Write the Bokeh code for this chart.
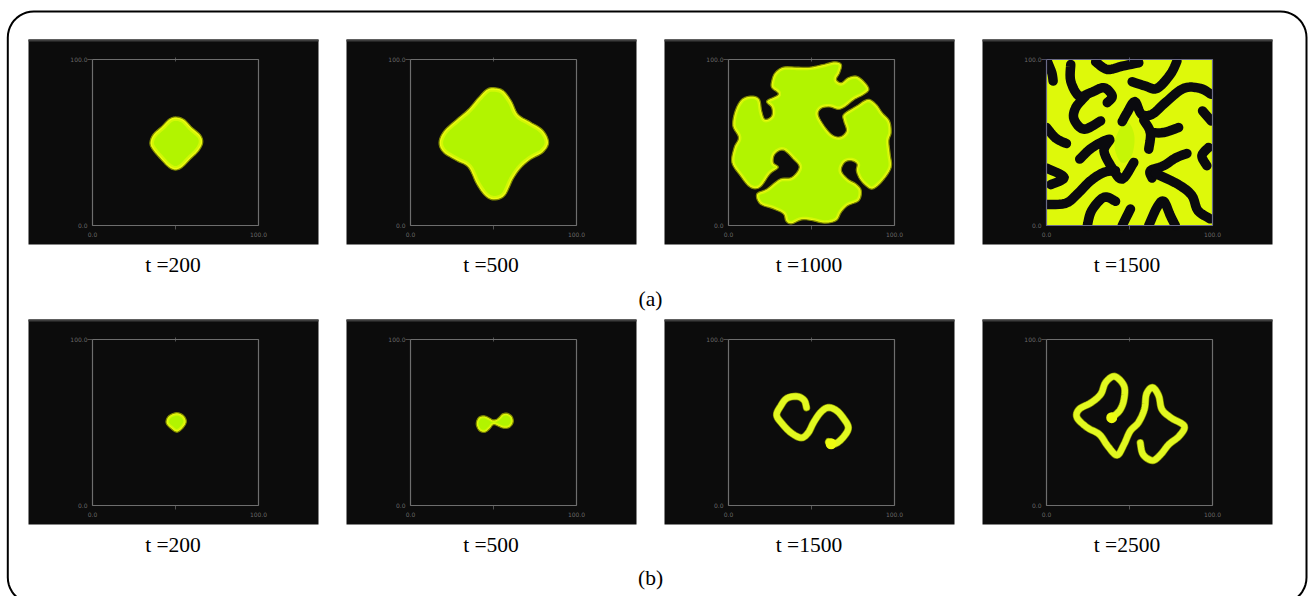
from bokeh.plotting import figure
from bokeh.core.properties import value
from bokeh.embed import file_html
from bokeh.resources import INLINE
import numpy as np

# ---------- data, in the plotted domain 0..100 of each inner square ----------
TOP_LABELS = ["t =200", "t =500", "t =1000", "t =1500"]
BOTTOM_LABELS = ["t =200", "t =500", "t =1500", "t =2500"]
ROW_CAPTIONS = ["(a)", "(b)"]
TICK_MIN = "0.0"
TICK_MAX = "100.0"

a200_x = [50,55,60,65,66.4,64,59,54,50,46,41,36,34.6,36.6,42,46]
a200_y = [65.4,64,59,54.6,50,45,40,35,33.4,35,40,46,50,55,60,64]

a500_x = [50.2,55.8,60.8,64.8,71.8,79.8,83.2,79.8,72.8,66.8,61.8,56.8,50.2,44.8,39.8,34.8,27.8,19.8,17.2,20.2,27.8,34.8,40.8,45.8]
a500_y = [83,81.4,75,67,62.6,57.4,50,44,40,35,28,18,15.4,18,25,35,39,44,50,57,64,70,77,82]

a1000_x = [26,28,33,41,49,57,64,68,67,65,68,72,77,81.4,84.6,81,76,70,66,61,56,54,57,62,67,71,69.4,69.4,77,84,89,92.6,97,98,96.6,97.4,98,93,87,82.6,79,77,77.4,74,70,68,72,77,80,78.6,72,68,65,58,50,44,38,34.6,33,27,19,17,23,31,38,42.6,39,33,28,27,30,25,19,13,7,2,3.4,6,2.6,4,8,14,18.6,20,22,26,26,23,30,26]
a1000_y = [87,92,95.4,95.4,95.4,97,98.6,97,92,88,86,89,90,87,82,78.6,76,71.4,70,71.4,70.6,67,61,55,53.4,57,63,67,72,76,73,68,63,56,51,43,35,27,22,24,28,33,37,39,38,33,28,25,21,15,12,8,3,1.4,3,3.4,1,2.6,7,10,13,19,22,28,29,35,40,45.4,43,38,35,31,23,23,30,38,47,53,60,69,76,78,76,69,64,66,71,75,79,83]

a1500_core_x = [44,48,51,53,52,49,45,42,41]
a1500_core_y = [58,62,60,53,44,39,38,43,50]

a1500_channels_x = [
    [0.6,3.2,4],
    [14.6,14.6,19.6,26.6,34.6,39.6,36.6],
    [23.6,17.6,16.6,22.6,32.6],
    [29.6,36.6,45.6,55.6],
    [51.6,59.6,66.6,74.6,78.6],
    [45.6,48.6,53.2,57.2,63.6,71.6,82.6,92.6,99.2],
    [94,99.2],
    [61.6,62.6,58.6],
    [62.6,70.6,79.6],
    [0,5.6,12],
    [20,27.6,38,34.6,39.6,45.6,52.6],
    [0,10.6,2.6],
    [0,11.6,18.6,26.6,34.6,41.6],
    [63.6,62.6,70.6,77.6,84.6],
    [65.6,79.6,87.6,91.2,98.6],
    [97.6,93.6,96.6],
    [24.6,27.2,34.6,41.6],
    [45.6,50.6],
    [61.6,66.6,70.6,74.6,77.6],
]
a1500_channels_y = [
    [98.6,92,87],
    [97,87,78,80,83,78,74],
    [78,71,64,58,63],
    [98.6,94,96,98],
    [86.6,84,82.6,91,99],
    [62.6,68,74.6,67,67,74,82.6,82.6,79],
    [69,63],
    [46,56,63.4],
    [56,56,59],
    [59,52.6,49.4],
    [40,47,52,45,34.6,28,38],
    [34.6,29,24.6],
    [12.6,13.4,19,27,32,33],
    [28.6,33,36,40.6,43.4],
    [31.4,24.6,18,9,4],
    [47,42,36],
    [0,9,17,14.6],
    [0,10],
    [0,11,14.6,6,0],
]

b200_x = [50.5,54.5,56.5,55,51,47,44.3,45.8]
b200_y = [55.9,54.5,51,47.3,44.2,46.5,49.9,53.9]

b500_x = [39.6,41,44.3,47.8,49.5,51.5,53.2,55.5,58.5,61.2,61.8,59.5,56,53,51,49.5,48,45,41.5]
b500_y = [49,53,54,52.6,51.6,51.8,53,55.2,55.5,53.5,50,47,46.6,47.7,48.6,48.4,46.5,44.2,45]

b1500_x = [47,45.6,41.4,35.2,31.5,29,32.3,37.7,43.8,48,51.2,55.4,59.9,64.8,69,72.2,69.2,64.3,60.3]
b1500_y = [59,63.4,65.7,64.6,60,54.5,49.3,43.8,40.8,43.8,49.9,56,59,57.4,52.9,46.9,41.2,37.2,38.4]
b1500_tip = (61.8, 37.2)

b2500_x = [39.3,44.2,46.7,46.7,41,35.6,32.7,27,19.7,18.4,24.6,31.9,36.9,42.5,46.7,50.4,55.3,59,60.2,63.9,67.6,69.5,74.9,83,79.9,73.7,68.8,63.9,58.2,56.5]
b2500_y = [52.9,57.4,64,72.1,77.8,74.1,67.1,62,58,52.9,46.9,42.8,35.8,30.3,36.8,44.8,49.9,58,67.1,71.1,66.1,58,52.9,47.9,41.8,36.8,30.7,27.1,30.7,37.8]
b2500_tip = (39.3, 52.9)

# ---------- layout ----------
W, H = 1308, 596
PANEL_W, PANEL_H = 290, 205
INNER_DX, INNER_DY = 64, 20
INNER_W, INNER_H = 166, 166
PANEL_X = [28, 346, 664, 982]
ROW_Y = [39, 319]
BG = "#0c0c0c"
LIME = "#b2f400"
MID = "#d2f806"
YELLOW = "#eefc10"
DIM = "#7f8a00"

p = figure(width=W, height=H, x_range=(0, W), y_range=(H, 0),
           output_backend="svg", toolbar_location=None, min_border=0,
           background_fill_color="white", border_fill_color="white")
p.axis.visible = False
p.grid.visible = False
p.outline_line_color = None


def to_px(col, row, xs, ys):
    ox = PANEL_X[col] + INNER_DX
    oy = ROW_Y[row] + INNER_DY + INNER_H
    return (ox + np.asarray(xs, float) * INNER_W / 100).tolist(), (oy - np.asarray(ys, float) * INNER_H / 100).tolist()


def rounded(xs, ys, closed, n=6):
    """Draw a traced outline as a smooth curve through the traced vertices."""
    pts = np.column_stack([xs, ys])
    if closed:
        q = np.vstack([pts[-1:], pts, pts[:2]])
    else:
        q = np.vstack([pts[:1], pts, pts[-1:]])
    out = []
    t = np.linspace(0, 1, n, endpoint=False)[:, None]
    for i in range(1, len(q) - 2):
        a, b, c, d = q[i - 1], q[i], q[i + 1], q[i + 2]
        out.append(0.5 * (2 * b + (c - a) * t + (2 * a - 5 * b + 4 * c - d) * t**2 + (3 * b - a - 3 * c + d) * t**3))
    out = np.vstack(out)
    if not closed:
        out = np.vstack([out, pts[-1:]])
    return out[:, 0].tolist(), out[:, 1].tolist()


def inset(xs, ys, d):
    """Move a closed outline inwards by d pixels."""
    x, y = np.asarray(xs), np.asarray(ys)
    dx, dy = np.roll(x, -1) - np.roll(x, 1), np.roll(y, -1) - np.roll(y, 1)
    ln = np.hypot(dx, dy) + 1e-9
    area = 0.5 * np.sum(x * np.roll(y, -1) - np.roll(x, -1) * y)
    s = 1 if area > 0 else -1
    return (x - s * d * dy / ln).tolist(), (y + s * d * dx / ln).tolist()


def panel(col, row, label):
    x0, y0 = PANEL_X[col], ROW_Y[row]
    p.quad(left=[x0], right=[x0 + PANEL_W], top=[y0], bottom=[y0 + PANEL_H], fill_color=BG, line_color=None)
    p.quad(left=[x0], right=[x0 + PANEL_W], top=[y0], bottom=[y0 + 2], fill_color="#3c3c3c", line_color=None)
    p.text([x0 + PANEL_W / 2 - 0.5], [y0 + PANEL_H + 8], text=[label], text_font=value("Liberation Serif"),
           text_font_size="21.5px", text_color="black", text_align="center", text_baseline="top")


def frame(col, row, color="#6e6e6e"):
    x0, y0 = PANEL_X[col] + INNER_DX, ROW_Y[row] + INNER_DY
    x1, y1 = x0 + INNER_W, y0 + INNER_H
    p.multi_line([[x0, x1, x1, x0, x0]], [[y0, y0, y1, y1, y0]], line_color=color, line_width=1.2)
    xm = (x0 + x1) / 2
    p.segment([xm, xm, x0 - 5, x1], [y0 - 2, y1, y0, y0], [xm, xm, x0, x1], [y0 + 2, y1 + 4, y0, y0],
              line_color=color, line_width=1, line_alpha=0.7)
    style = dict(text_font=value("DejaVu Sans"), text_font_size="6px", text_color="#7c7c7c", text_alpha=0.85)
    p.text([x0 - 5], [y0], text=[TICK_MAX], text_align="right", text_baseline="middle", **style)
    p.text([x0 - 5], [y1], text=[TICK_MIN], text_align="right", text_baseline="middle", **style)
    p.text([x0], [y1 + 6], text=[TICK_MIN], text_align="center", text_baseline="top", **style)
    p.text([x1], [y1 + 6], text=[TICK_MAX], text_align="center", text_baseline="top", **style)


def blob(col, row, xs, ys, d1=2.0, d2=4.0):
    px, py = to_px(col, row, xs, ys)
    px, py = rounded(px, py, True)
    p.patch(px, py, fill_color=YELLOW, line_color=DIM, line_width=1.2, line_join="round")
    ix, iy = inset(px, py, d1)
    p.patch(ix, iy, fill_color=MID, line_color=None)
    ix, iy = inset(px, py, d2)
    p.patch(ix, iy, fill_color=LIME, line_color=None)


def ribbon(col, row, xs, ys, tip):
    px, py = to_px(col, row, xs, ys)
    px, py = rounded(px, py, False)
    p.line(px, py, line_color=DIM, line_width=7.5, line_join="round", line_cap="round")
    p.line(px, py, line_color="#e2f820", line_width=6.2, line_join="round", line_cap="round")
    tx, ty = to_px(col, row, [tip[0]], [tip[1]])
    p.scatter(tx, ty, size=11, marker="circle", fill_color=YELLOW, line_color=None)


for c, lab in enumerate(TOP_LABELS):
    panel(c, 0, lab)
for c, lab in enumerate(BOTTOM_LABELS):
    panel(c, 1, lab)

p.text([650], [286], text=[ROW_CAPTIONS[0]], text_font=value("Liberation Serif"), text_font_size="21.5px",
       text_color="black", text_align="center", text_baseline="top")
p.text([650], [565], text=[ROW_CAPTIONS[1]], text_font=value("Liberation Serif"), text_font_size="21.5px",
       text_color="black", text_align="center", text_baseline="top")

# outer rounded frame (its lower edge runs past the picture)
L, T, R, B, r = 7.3, 11, 1306, 603, 26
ang = np.linspace(0, np.pi / 2, 12)
fx, fy = [], []
for cx, cy, a0 in [(R - r, T + r, -np.pi / 2), (R - r, B - r, 0), (L + r, B - r, np.pi / 2), (L + r, T + r, np.pi)]:
    fx += list(cx + r * np.cos(a0 + ang))
    fy += list(cy + r * np.sin(a0 + ang))
p.patch(fx + fx[:1], fy + fy[:1], fill_color=None, line_color="black", line_width=2)

for c in range(3):
    frame(c, 0)
for c in range(4):
    frame(c, 1)

blob(0, 0, a200_x, a200_y)
blob(1, 0, a500_x, a500_y)
blob(2, 0, a1000_x, a1000_y, 1.5, 3.0)

# labyrinth: a filled square crossed by dark channels
x0, y0 = PANEL_X[3] + INNER_DX, ROW_Y[0] + INNER_DY
p.quad(left=[x0], right=[x0 + INNER_W], top=[y0], bottom=[y0 + INNER_H], fill_color="#def90a", line_color=None)
gx, gy = rounded(*to_px(3, 0, a1500_core_x, a1500_core_y), True)
p.patch(gx, gy, fill_color="#c6f606", line_color=None)
cxs, cys = [], []
for xs, ys in zip(a1500_channels_x, a1500_channels_y):
    px, py = to_px(3, 0, xs, ys)
    px, py = rounded(px, py, False)
    cxs.append(px)
    cys.append(py)
p.multi_line(cxs, cys, line_color="#0a0a0e", line_width=9.5, line_cap="round", line_join="round")
frame(3, 0, "#6a6a88")

blob(0, 1, b200_x, b200_y, 1.5, 3.0)
blob(1, 1, b500_x, b500_y, 1.2, 2.4)
ribbon(2, 1, b1500_x, b1500_y, b1500_tip)
ribbon(3, 1, b2500_x, b2500_y, b2500_tip)

open("out.html", "w").write(file_html(p, INLINE))
